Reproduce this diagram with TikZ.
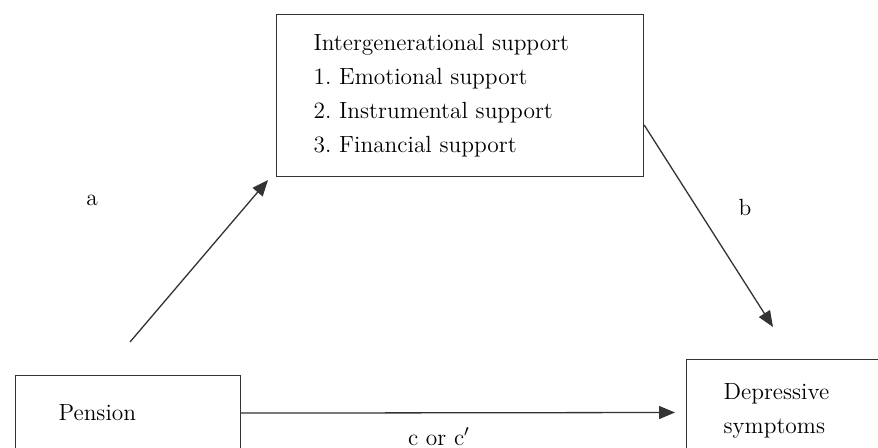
\documentclass[tikz,border=0pt]{standalone}
\usetikzlibrary{arrows.meta}
\frenchspacing

\begin{document}
\begin{tikzpicture}[x=0.5pt,y=-0.5pt,
    box/.style={draw=black!80,line width=0.6pt,align=left,anchor=north west,
      font=\fontsize{11.7}{17}\selectfont},
    arr/.style={draw=black!80,line width=0.65pt,-{Triangle[length=8pt,width=6.5pt]}},
    lab/.style={font=\fontsize{11.7}{17}\selectfont}]
   % one pixel of the picture is half a point, y runs down
   \useasboundingbox (0,0) rectangle (878,448);
   \clip (0,0) rectangle (878,448);

   \node[box,inner xsep=18.5pt,text width=146.5pt,minimum height=81pt] (support) at (276,14)
     {Intergenerational support\\1. Emotional support\\2. Instrumental support\\3. Financial support};
   \node[box,inner xsep=21.5pt,text width=69.5pt,minimum height=37.5pt] (pension) at (15,375) {Pension};
   \node[box,inner xsep=18.5pt,text width=65pt,minimum height=51pt] (depress) at (686,359)
     {Depressive\\symptoms};

   \coordinate (aStart) at (130,342);
   \coordinate (aEnd) at (268,180);
   \coordinate (bEnd) at (773,327);
   \coordinate (cEnd) at (675,412.5);

   \draw[arr] (aStart) -- (aEnd);
   \draw[arr] ([shift={(0,111)}]support.north east) -- (bEnd);
   \draw[arr] (pension.east) -- (cEnd);

   \node[lab] (a) at (92,200) {a};
   \node[lab] (b) at (745,208) {b};
   \node[lab,anchor=base] (c) at (439,445) {c or c$'$};
\end{tikzpicture}
\end{document}
